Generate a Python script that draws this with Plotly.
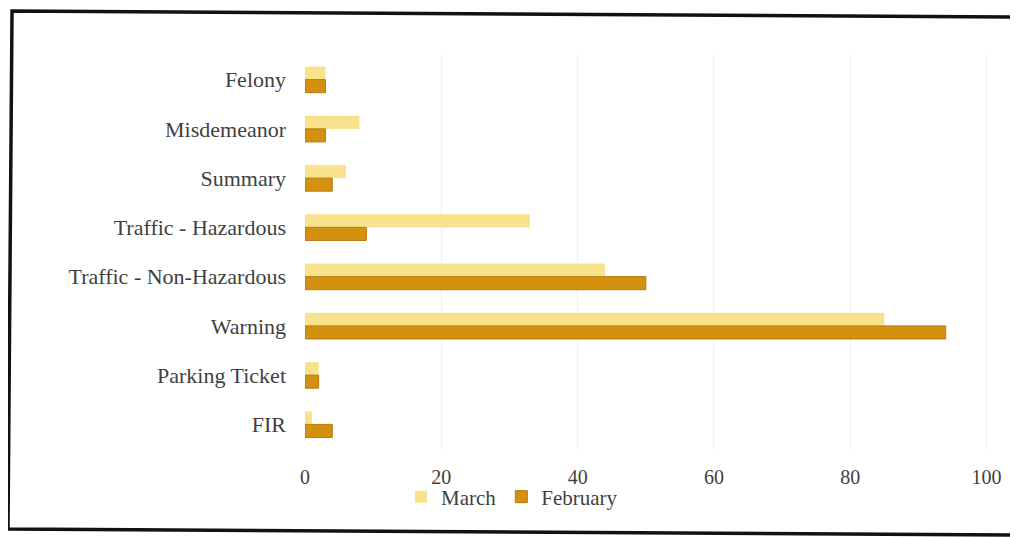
import plotly.graph_objects as go

categories = ["Felony", "Misdemeanor", "Summary", "Traffic - Hazardous",
              "Traffic - Non-Hazardous", "Warning", "Parking Ticket", "FIR"]
march = [3, 8, 6, 33, 44, 85, 2, 1]
february = [3, 3, 4, 9, 50, 94, 2, 4]
x_ticks = [0, 20, 40, 60, 80, 100]

OFF = 8  # page body margin
W, H = 1018 - OFF, 537 - OFF
ML, MR, MT, MB = 297, 28, 47, 88
pw = W - ML - MR
ph = H - MT - MB

def px(s):
    return (s - OFF - ML) / pw

def py(s):
    return (H - MB - (s - OFF)) / ph

fam = "Liberation Serif, DejaVu Serif, serif"
font = dict(family=fam, size=22, color="#3f3f3f")

fig = go.Figure()
fig.add_trace(go.Bar(y=categories, x=march, name="March", orientation="h",
                     marker=dict(color="#F8E28C", line=dict(width=0))))
fig.add_trace(go.Bar(y=categories, x=february, name="February", orientation="h",
                     marker=dict(color="#D4910F", line=dict(color="#B57A0C", width=1))))

frame = "M {:.4f},{:.4f} L {:.4f},{:.4f} L {:.4f},{:.4f} L {:.4f},{:.4f}".format(
    px(1020), py(17), px(12), py(11), px(8), py(529), px(1020), py(535))

fig.update_layout(
    width=W, height=H,
    margin=dict(l=ML, r=MR, t=MT, b=MB),
    paper_bgcolor="white", plot_bgcolor="white",
    font=font,
    barmode="group", bargap=0.47, bargroupgap=0,
    showlegend=True,
    legend=dict(orientation="h", x=px(401), xanchor="left", y=py(497), yanchor="middle",
                font=dict(family=fam, size=21, color="#3f3f3f"), bgcolor="rgba(0,0,0,0)",
                itemwidth=30, tracegroupgap=0),
    xaxis=dict(range=[0, 100.5], tickvals=x_ticks, showgrid=True, gridcolor="#EEEEEE",
               gridwidth=1, zeroline=False, showline=False, ticklabelstandoff=14,
               tickfont=dict(family=fam, size=20, color="#3f3f3f")),
    yaxis=dict(autorange="reversed", showgrid=False, zeroline=False, showline=False,
               ticklabelstandoff=18),
    shapes=[dict(type="path", xref="paper", yref="paper", path=frame,
                 line=dict(color="#111111", width=3.5), layer="below")],
)

fig.write_html("out.html")
